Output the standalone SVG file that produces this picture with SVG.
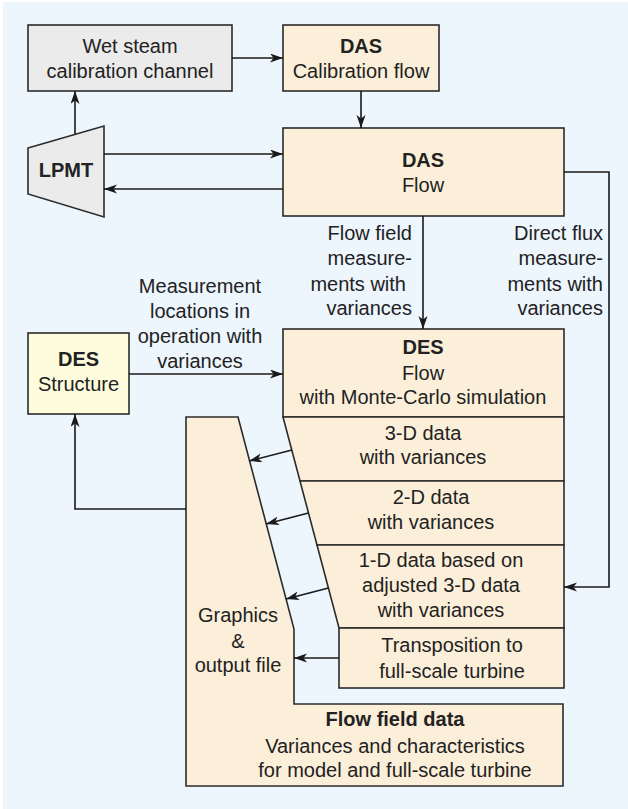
<svg xmlns="http://www.w3.org/2000/svg" width="628" height="809" viewBox="0 0 628 809">
  <style>
    text { font-family: "Liberation Sans", Arial, sans-serif; font-size: 20px; fill: #222; }
    .b { font-weight: bold; }
    .m { text-anchor: middle; }
    .e { text-anchor: end; }
    .box { fill: #FCEFDA; stroke: #2b2b2b; stroke-width: 1.6; }
    .grey { fill: #EBEBEB; stroke: #2b2b2b; stroke-width: 1.6; }
    .yel { fill: #FEFCDD; stroke: #2b2b2b; stroke-width: 1.6; }
    .ln { fill: none; stroke: #1a1a1a; stroke-width: 1.6; }
    .arr { fill: none; stroke: #1a1a1a; stroke-width: 1.6; marker-end: url(#ah); }
  </style>
  <defs>
    <marker id="ah" markerUnits="userSpaceOnUse" markerWidth="14" markerHeight="10" refX="13" refY="4.5" orient="auto">
      <path d="M0,0 L13,4.5 L0,9 L3.5,4.5 z" fill="#1a1a1a"/>
    </marker>
  </defs>

  <!-- backdrop -->
  <rect x="3" y="2" width="625" height="807" fill="#EDF5FD"/>

  <g id="wet-steam">
    <rect class="grey" x="28" y="25" width="204" height="66"/>
    <text class="m" x="130" y="53">Wet steam</text>
    <text class="m" x="130" y="78">calibration channel</text>
  </g>

  <g id="das-calibration">
    <rect class="box" x="283" y="25" width="156" height="66"/>
    <text class="m b" x="361" y="53">DAS</text>
    <text class="m" x="361" y="78">Calibration flow</text>
  </g>

  <g id="lpmt">
    <polygon class="grey" points="28,148 104,126 104,217 28,194"/>
    <text class="m b" x="66" y="177">LPMT</text>
  </g>

  <g id="das-flow">
    <rect class="box" x="283" y="128" width="281" height="88"/>
    <text class="m b" x="423" y="167">DAS</text>
    <text class="m" x="423" y="192">Flow</text>
  </g>

  <g id="des-structure">
    <rect class="yel" x="28" y="333" width="101" height="81"/>
    <text class="m b" x="78.5" y="366">DES</text>
    <text class="m" x="78.5" y="391">Structure</text>
  </g>

  <g id="des-flow">
    <rect class="box" x="283" y="329" width="281" height="88"/>
    <text class="m b" x="423" y="354">DES</text>
    <text class="m" x="423" y="380">Flow</text>
    <text class="m" x="423" y="404">with Monte-Carlo simulation</text>
  </g>

  <g id="data-3d">
    <polygon class="box" points="283,417 564,417 564,481 300,481"/>
    <text class="m" x="423" y="440">3-D data</text>
    <text class="m" x="423" y="464">with variances</text>
  </g>

  <g id="data-2d">
    <polygon class="box" points="300,481 564,481 564,545 317,545"/>
    <text class="m" x="431" y="504">2-D data</text>
    <text class="m" x="431" y="529">with variances</text>
  </g>

  <g id="data-1d">
    <polygon class="box" points="317,545 564,545 564,628 339,628"/>
    <text class="m" x="441" y="567">1-D data based on</text>
    <text class="m" x="441" y="592">adjusted 3-D data</text>
    <text class="m" x="441" y="617">with variances</text>
  </g>

  <g id="transposition">
    <rect class="box" x="339" y="628" width="225" height="60"/>
    <text class="m" x="452" y="652">Transposition to</text>
    <text class="m" x="452" y="678">full-scale turbine</text>
  </g>

  <g id="output">
    <polygon class="box" points="186,417 238,417 294,629 294,704 563,704 563,786 186,786"/>
    <text class="m" x="238" y="622">Graphics</text>
    <text class="m" x="238" y="648">&amp;</text>
    <text class="m" x="238" y="672">output file</text>
    <text class="m b" x="395" y="726">Flow field data</text>
    <text class="m" x="395" y="753">Variances and characteristics</text>
    <text class="m" x="395" y="777">for model and full-scale turbine</text>
  </g>

  <g id="connectors">
    <line class="arr" x1="232" y1="58" x2="283" y2="58"/>
    <line class="arr" x1="361" y1="91" x2="361" y2="128"/>
    <line class="arr" x1="75" y1="134" x2="75" y2="91"/>
    <line class="arr" x1="104" y1="154" x2="283" y2="154"/>
    <line class="arr" x1="283" y1="189" x2="104" y2="189"/>
    <line class="arr" x1="423" y1="216" x2="423" y2="329"/>
    <polyline class="arr" points="564,172 609,172 609,587 564,587"/>
    <line class="arr" x1="129" y1="374" x2="283" y2="374"/>
    <polyline class="arr" points="186,509 75,509 75,414"/>
    <line class="arr" x1="292" y1="450" x2="249" y2="461"/>
    <line class="arr" x1="308.5" y1="513" x2="266" y2="524"/>
    <line class="arr" x1="328.5" y1="588" x2="286" y2="599"/>
    <line class="arr" x1="339" y1="658" x2="294" y2="658"/>
  </g>

  <g id="labels">
    <text class="e" x="412" y="240">Flow field</text>
    <text class="e" x="412" y="265">measure-</text>
    <text class="e" x="406" y="291">ments with</text>
    <text class="e" x="412" y="315">variances</text>
    <text class="e" x="603" y="240">Direct flux</text>
    <text class="e" x="603" y="265">measure-</text>
    <text class="e" x="603" y="291">ments with</text>
    <text class="e" x="603" y="315">variances</text>
    <text class="m" x="200" y="293">Measurement</text>
    <text class="m" x="200" y="318">locations in</text>
    <text class="m" x="200" y="343">operation with</text>
    <text class="m" x="200" y="368">variances</text>
  </g>
</svg>
